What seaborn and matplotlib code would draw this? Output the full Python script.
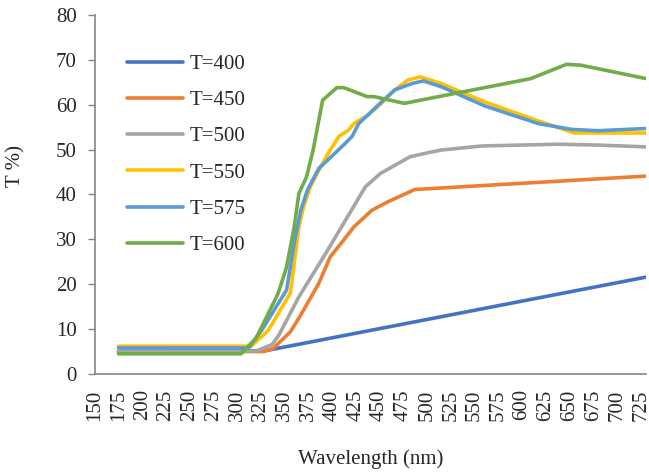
import numpy as np
import pandas as pd
import matplotlib
matplotlib.use("Agg")
import matplotlib.pyplot as plt
import seaborn as sns

# 读取的曲线数据 (wavelength nm, T %)
wl_400 = [175, 330, 731]
t_400 = [5.0, 5.2, 21.6]

wl_450 = [175, 328, 338, 356, 366, 386, 398, 412, 423, 442, 459, 487, 731]
t_450 = [5.0, 5.0, 5.7, 9.4, 12.8, 20.2, 26.1, 29.8, 32.8, 36.5, 38.4, 41.1, 44.1]

wl_500 = [175, 320, 337, 344, 365, 389, 410, 435, 451, 482, 501, 515, 557, 638, 680, 731]
t_500 = [5.1, 5.1, 6.6, 8.7, 17.2, 25.4, 32.8, 41.7, 44.7, 48.4, 49.3, 49.9, 50.8, 51.2, 51.0, 50.6]

wl_550 = [175, 315, 333, 356, 361, 365, 370, 377, 386, 396, 407, 417, 423, 438,
          452, 466, 480, 493, 515, 561, 610, 655, 731]
t_550 = [6.2, 6.2, 9.8, 18.0, 26.1, 32.8, 37.3, 41.7, 45.4, 49.2, 52.9, 54.3, 55.8, 57.7,
         60.3, 63.3, 65.5, 66.2, 64.7, 60.6, 56.9, 53.7, 53.7]

wl_575 = [175, 312, 326, 352, 360, 367, 374, 386, 410, 421, 428, 452, 466, 484,
          496, 515, 561, 617, 652, 680, 731]
t_575 = [5.8, 5.8, 9.8, 18.7, 29.1, 36.5, 41.0, 45.8, 50.6, 52.9, 55.8, 60.6, 63.3, 64.7,
         65.3, 64.0, 59.7, 55.8, 54.5, 54.2, 54.7]

wl_600 = [175, 304, 320, 343, 352, 360, 365, 373, 380, 390, 405, 412, 437, 444,
          476, 609, 647, 662, 731]
t_600 = [4.5, 4.5, 8.0, 17.9, 23.8, 32.7, 40.2, 43.9, 49.9, 61.0, 63.8, 63.8, 61.8, 61.8,
         60.3, 65.8, 69.0, 68.8, 65.8]

labels = ["T=400", "T=450", "T=500", "T=550", "T=575", "T=600"]
colors = ["#4472C4", "#ED7D31", "#A5A5A5", "#FFC000", "#5B9BD5", "#70AD47"]
xticks = list(range(150, 726, 25))
yticks = list(range(0, 81, 10))

frames = []
for lab, wl, t in zip(labels,
                      [wl_400, wl_450, wl_500, wl_550, wl_575, wl_600],
                      [t_400, t_450, t_500, t_550, t_575, t_600]):
    frames.append(pd.DataFrame({"wl": wl, "T": t, "series": lab}))
df = pd.concat(frames, ignore_index=True)

sns.set_style("white")
plt.rcParams['font.family'] = ['Liberation Serif', 'DejaVu Serif']

fig = plt.figure(figsize=(6.49, 4.75), dpi=100)
ax = fig.add_axes([0.146, 0.2126, 0.85, 0.756])

sns.lineplot(data=df, x="wl", y="T", hue="series", palette=colors, hue_order=labels,
             estimator=None, sort=False, linewidth=2.6, ax=ax, legend=False)

ax.set_xlim(150, 731)
ax.set_ylim(0, 80)
ax.set_xticks(xticks)
ax.set_xticklabels([str(v) for v in xticks], rotation=90)
ax.set_yticks(yticks)
ax.tick_params(axis='x', length=0, pad=11, labelsize=15)
ax.tick_params(axis='y', length=5, width=1, color="#868686", direction='out', pad=8, labelsize=15, left=True)

for s in ["top", "right"]:
    ax.spines[s].set_visible(False)
for s in ["left", "bottom"]:
    ax.spines[s].set_color("#868686")
    ax.spines[s].set_linewidth(1.2)

ax.set_xlabel("Wavelength (nm)", fontsize=15)
ax.set_ylabel("T %)", fontsize=15)
ax.xaxis.set_label_coords(0.5, -0.21)
ax.yaxis.set_label_coords(-0.125, 0.58)

handles = [plt.Line2D([], [], color=c, lw=2.6) for c in colors]
ax.legend(handles, labels, loc="upper left", bbox_to_anchor=(0.058, 0.89),
          frameon=False, fontsize=15, handlelength=2.7, handletextpad=0.3,
          labelspacing=0.8, borderpad=0, borderaxespad=0)

fig.savefig("out.png", dpi=100)
